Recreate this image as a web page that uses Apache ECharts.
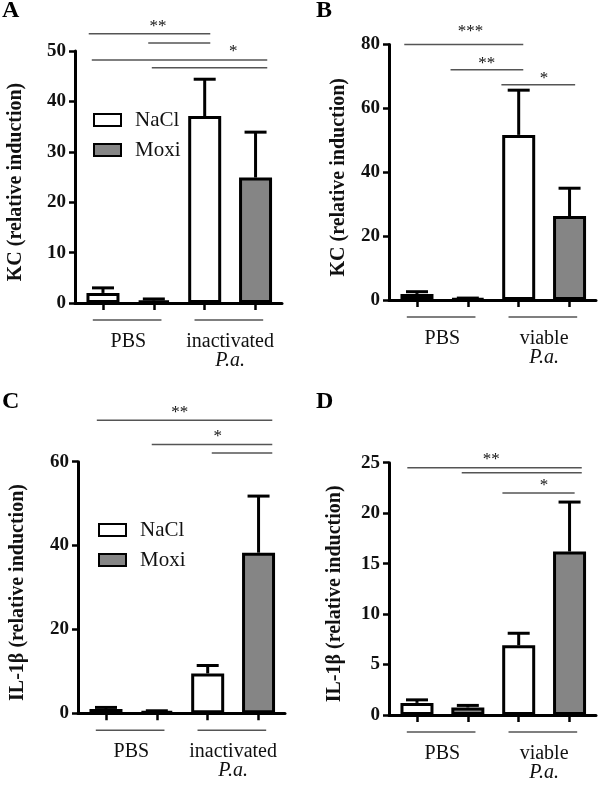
<!DOCTYPE html>
<html>
<head>
<meta charset="utf-8">
<script src="https://cdn.jsdelivr.net/npm/echarts@6/dist/echarts.min.js"></script>
<style>
  html, body { margin: 0; padding: 0; background: #fff; }
  #chart { width: 600px; height: 785px; }
</style>
</head>
<body>
<div id="chart"></div>
<script>
// bars in every panel: NaCl PBS, Moxi PBS, NaCl P.a., Moxi P.a. (x = 0..3)
const groupsInact = ['PBS', 'inactivated']
const groupsViable = ['PBS', 'viable']

// A: KC, inactivated P.a.
const kcInactNacl = [2.0, 37.1]
const kcInactNaclSem = [1.0, 7.3]
const kcInactMoxi = [0.5, 24.9]
const kcInactMoxiSem = [0.3, 9.0]

// B: KC, viable P.a.
const kcViableNacl = [1.9, 51.7]
const kcViableNaclSem = [0.7, 14.0]
const kcViableMoxi = [0.4, 26.3]
const kcViableMoxiSem = [0.2, 8.7]

// C: IL-1b, inactivated P.a.
const ilInactNacl = [1.0, 9.5]
const ilInactNaclSem = [0.4, 1.9]
const ilInactMoxi = [0.5, 38.3]
const ilInactMoxiSem = [0.1, 13.5]

// D: IL-1b, viable P.a.
const ilViableNacl = [1.2, 6.9]
const ilViableNaclSem = [0.3, 1.2]
const ilViableMoxi = [0.75, 16.2]
const ilViableMoxiSem = [0.2, 4.9]

// significance brackets: [from x, to x, y]  and stars: [x, y]
const sigLinesA = [[-0.28, 2.11, 53.4], [0.89, 2.11, 51.6], [-0.22, 3.23, 48.2], [0.96, 3.23, 46.7]]
const starsA = [[1.08, 55.4], [2.56, 50.4]]
const starTextA = ['**', '*']

const sigLinesB = [[-0.25, 2.09, 80.0], [0.66, 2.09, 72.1], [1.66, 3.11, 67.4]]
const starsB = [[1.05, 85.1], [1.37, 75.1], [2.5, 70.3]]
const starTextB = ['***', '**', '*']

const sigLinesC = [[-0.18, 3.27, 69.9], [0.9, 3.27, 64.1], [2.08, 3.27, 62.1]]
const starsC = [[1.45, 72.5], [2.2, 66.6]]
const starTextC = ['**', '*']

const sigLinesD = [[-0.19, 3.24, 24.5], [0.88, 3.24, 24.0], [1.68, 3.1, 22.0]]
const starsD = [[1.46, 25.6], [2.5, 23.0]]
const starTextD = ['**', '*']

// underline of each treatment group
const groupLines = [[-0.2, 1.15], [1.8, 3.15]]

const font = 'Liberation Serif'
const ink = '#111'

let panels = [
  {
    letter: 'A', left: 75, top: 51, height: 252, max: 50, interval: 10, nameGap: 49,
    yName: 'KC (relative induction)', groups: groupsInact,
    nacl: kcInactNacl, naclSem: kcInactNaclSem, moxi: kcInactMoxi, moxiSem: kcInactMoxiSem,
    sig: sigLinesA, stars: starsA, starText: starTextA
  },
  {
    letter: 'B', left: 389, top: 44.5, height: 255.5, max: 80, interval: 20, nameGap: 40,
    yName: 'KC (relative induction)', groups: groupsViable,
    nacl: kcViableNacl, naclSem: kcViableNaclSem, moxi: kcViableMoxi, moxiSem: kcViableMoxiSem,
    sig: sigLinesB, stars: starsB, starText: starTextB
  },
  {
    letter: 'C', left: 78, top: 461.7, height: 251.6, max: 60, interval: 20, nameGap: 50,
    yName: 'IL-1β (relative induction)', groups: groupsInact,
    nacl: ilInactNacl, naclSem: ilInactNaclSem, moxi: ilInactMoxi, moxiSem: ilInactMoxiSem,
    sig: sigLinesC, stars: starsC, starText: starTextC
  },
  {
    letter: 'D', left: 389, top: 462.7, height: 252.3, max: 25, interval: 5, nameGap: 44,
    yName: 'IL-1β (relative induction)', groups: groupsViable,
    nacl: ilViableNacl, naclSem: ilViableNaclSem, moxi: ilViableMoxi, moxiSem: ilViableMoxiSem,
    sig: sigLinesD, stars: starsD, starText: starTextD
  }
]

function renderErr(params, api) {
  const x = api.value(0)
  const base = api.coord([x, api.value(1)])
  const top = api.coord([x, api.value(2)])
  const style = { stroke: '#000', lineWidth: 3 }
  return {
    type: 'group',
    children: [
      { type: 'line', shape: { x1: base[0], y1: base[1], x2: top[0], y2: top[1] }, style: style },
      { type: 'line', shape: { x1: top[0] - 11, y1: top[1], x2: top[0] + 11, y2: top[1] }, style: style }
    ]
  }
}

function renderSig(params, api) {
  const a = api.coord([api.value(0), api.value(2)])
  const b = api.coord([api.value(1), api.value(2)])
  return {
    type: 'line',
    shape: { x1: a[0], y1: a[1], x2: b[0], y2: b[1] },
    style: { stroke: '#555', lineWidth: 1.5 }
  }
}

function renderUnder(params, api) {
  const a = api.coord([api.value(0), api.value(2)])
  const b = api.coord([api.value(1), api.value(2)])
  return {
    type: 'line',
    shape: { x1: a[0], y1: a[1] + 17, x2: b[0], y2: b[1] + 17 },
    style: { stroke: '#555', lineWidth: 1.5 }
  }
}

let grids = []
let xAxes = []
let yAxes = []
let series = []
let titles = []

panels.forEach(function(p, i) {
  grids.push({ left: p.left, top: p.top, width: 207, height: p.height })
  titles.push({
    text: p.letter,
    left: p.left < 200 ? 2 : 316,
    top: i < 2 ? -1 : 390,
    padding: 0,
    textStyle: { fontFamily: font, fontSize: 24, fontWeight: 'bold', color: '#000' }
  })
  xAxes.push({
    type: 'value',
    gridIndex: i,
    min: -0.55,
    max: 3.52,
    axisLine: { show: true, onZero: false, lineStyle: { color: '#000', width: 3 } },
    axisTick: { show: true, customValues: [0, 1, 2, 3], length: 7, lineStyle: { color: '#000', width: 2.5 } },
    axisLabel: {
      customValues: [0.5, 2.5],
      formatter: function(v) {
        return v < 1 ? p.groups[0] : p.groups[1] + '\n{i|P.a.}'
      },
      margin: 29,
      fontFamily: font,
      fontSize: 20,
      lineHeight: 19,
      color: ink,
      rich: {
        i: { fontFamily: font, fontSize: 20, lineHeight: 19, fontStyle: 'italic', color: ink }
      }
    },
    splitLine: { show: false }
  })
  yAxes.push({
    type: 'value',
    gridIndex: i,
    min: 0,
    max: p.max,
    interval: p.interval,
    name: p.yName,
    nameLocation: 'middle',
    nameGap: p.nameGap,
    nameTextStyle: { fontFamily: font, fontSize: 20, fontWeight: 'bold', color: ink, padding: [0, 10, 0, 0] },
    axisLine: { show: true, onZero: false, lineStyle: { color: '#000', width: 3 } },
    axisTick: { show: true, length: 6, lineStyle: { color: '#000', width: 2.5 } },
    axisLabel: { fontFamily: font, fontSize: 19, fontWeight: 'bold', color: ink, margin: 9 },
    splitLine: { show: false }
  })
  series.push({
    name: 'NaCl',
    type: 'bar',
    xAxisIndex: i,
    yAxisIndex: i,
    barWidth: 33,
    barGap: '-100%',
    itemStyle: { color: '#fff', borderColor: '#000', borderWidth: 3 },
    data: [[0, p.nacl[0]], [2, p.nacl[1]]]
  })
  series.push({
    name: 'Moxi',
    type: 'bar',
    xAxisIndex: i,
    yAxisIndex: i,
    barWidth: 33,
    barGap: '-100%',
    itemStyle: { color: '#858585', borderColor: '#000', borderWidth: 3 },
    data: [[1, p.moxi[0]], [3, p.moxi[1]]]
  })
  series.push({
    type: 'custom',
    xAxisIndex: i,
    yAxisIndex: i,
    renderItem: renderErr,
    encode: { x: 0, y: [1, 2] },
    z: 3,
    data: [
      [0, p.nacl[0], p.nacl[0] + p.naclSem[0]],
      [1, p.moxi[0], p.moxi[0] + p.moxiSem[0]],
      [2, p.nacl[1], p.nacl[1] + p.naclSem[1]],
      [3, p.moxi[1], p.moxi[1] + p.moxiSem[1]]
    ]
  })
  series.push({
    type: 'custom',
    xAxisIndex: i,
    yAxisIndex: i,
    clip: false,
    renderItem: renderSig,
    encode: { x: [0, 1], y: 2 },
    data: p.sig
  })
  series.push({
    type: 'custom',
    xAxisIndex: i,
    yAxisIndex: i,
    clip: false,
    renderItem: function(params, api) {
      const pt = api.coord([api.value(0), api.value(1)])
      return {
        type: 'text',
        x: pt[0],
        y: pt[1] + 3,
        style: {
          text: p.starText[params.dataIndex],
          font: '17px "Liberation Serif"',
          fill: ink,
          align: 'center',
          verticalAlign: 'middle'
        }
      }
    },
    encode: { x: 0, y: 1 },
    data: p.stars
  })
  series.push({
    type: 'custom',
    xAxisIndex: i,
    yAxisIndex: i,
    clip: false,
    renderItem: renderUnder,
    encode: { x: [0, 1], y: 2 },
    data: groupLines.map(function(g) { return [g[0], g[1], 0] })
  })
})

const legendBase = {
  orient: 'vertical',
  data: ['NaCl', 'Moxi'],
  icon: 'rect',
  itemWidth: 27,
  itemHeight: 12,
  itemGap: 8,
  selectedMode: false,
  textStyle: { fontFamily: font, fontSize: 21, lineHeight: 22, color: ink, padding: [0, 0, 0, 9] }
}

let option = {
  animation: false,
  title: titles,
  legend: [
    Object.assign({ left: 88, top: 104 }, legendBase),
    Object.assign({ left: 93, top: 514 }, legendBase)
  ],
  grid: grids,
  xAxis: xAxes,
  yAxis: yAxes,
  series: series
}

let myChart = echarts.init(document.getElementById('chart'))
myChart.setOption(option)
</script>
</body>
</html>
